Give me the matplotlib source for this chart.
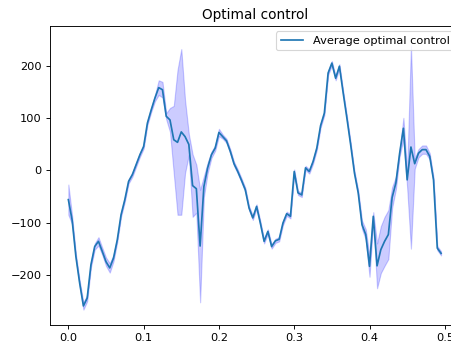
import numpy as np
import matplotlib
matplotlib.use("Agg")
import matplotlib.pyplot as plt

# time grid
t = np.arange(100) * 0.005

# average optimal control over runs
mean_u = [
    -56, -95, -165, -216, -260, -245, -181, -146, -136, -155,
    -175, -187, -168, -133, -85, -56, -21, -8, 11, 30,
    46, 91, 116, 139, 159, 155, 104, 97, 59, 54,
    74, 65, 50, -29, -35, -145, -31, 5, 30, 43,
    73, 65, 57, 37, 13, -2, -19, -37, -72, -91,
    -69, -101, -136, -117, -146, -135, -132, -101, -83, -88,
    -2, -43, -47, 5, -2, 17, 43, 86, 110, 187,
    206, 177, 200, 149, 100, 49, -5, -43, -104, -123,
    -184, -88, -183, -152, -136, -123, -52, -24, 33, 81,
    -18, 45, 13, 33, 40, 40, 27, -18, -149, -159,
]

# standard deviation across runs
std_u = [
    29, 8, 5, 5, 7, 6, 5, 6, 8, 7,
    8, 9, 6, 4, 4, 4, 4, 4, 4, 4,
    4, 4, 4, 6, 14, 15, 6, 23, 65, 139,
    159, 70, 20, 60, 46, 108, 20, 10, 6, 5,
    7, 4, 4, 4, 4, 4, 4, 4, 4, 4,
    4, 4, 4, 4, 4, 4, 4, 4, 4, 4,
    4, 4, 4, 4, 4, 4, 4, 4, 4, 4,
    4, 4, 4, 4, 4, 4, 4, 5, 8, 10,
    20, 8, 43, 45, 47, 47, 20, 12, 6, 20,
    15, 195, 10, 8, 8, 8, 6, 5, 4, 4,
]

mean_u = np.array(mean_u, dtype=float)
std_u = np.array(std_u, dtype=float)

DPI = 82
fig = plt.figure(figsize=(452 / DPI, 349 / DPI), dpi=DPI)
ax = fig.add_axes([0.110, 0.0696, 0.907, 0.857])

ax.plot(t, mean_u, color="#1f77b4", label="Average optimal control")
ax.fill_between(t, mean_u - std_u, mean_u + std_u, color="blue", alpha=0.2)

ax.set_xlim(-0.02475, 0.51975)
ax.set_ylim(-296, 278)
ax.set_xticks([0.0, 0.1, 0.2, 0.3, 0.4, 0.5])
ax.set_yticks([-200, -100, 0, 100, 200])
ax.set_title("Optimal control")
ax.legend(loc="upper right")

fig.savefig("out.png", dpi=DPI)
